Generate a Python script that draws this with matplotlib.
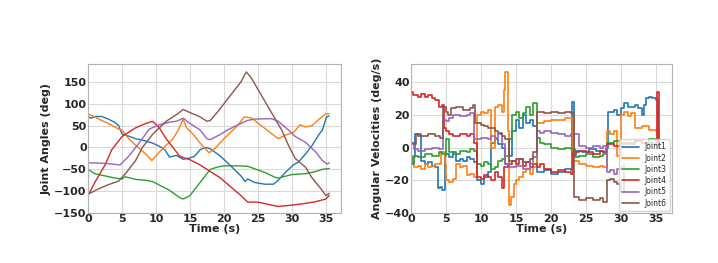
import numpy as np
import matplotlib
matplotlib.use("Agg")
from matplotlib import pyplot as plt

# joint angles (deg): (time s, value) pairs
ang_j1 = [(0, 70), (0.5, 67), (1, 71), (2, 71), (3, 65), (4, 57), (4.5, 50), (5, 31), (6, 26), (7, 20),
          (8, 17), (9.5, 10), (10.5, 3), (11.3, -5), (12, -22), (13, -18), (14, -27), (15, -24),
          (15.7, -20), (16.5, -5), (17.3, 0), (18, -3), (19.5, -20), (21, -42), (22.5, -65),
          (23.1, -78), (23.5, -72), (24.5, -80), (26, -84), (27.3, -84), (28, -75), (29, -58),
          (30.2, -40), (31, -33), (32, -15), (33, 5), (34, 30), (34.5, 40), (35.1, 70), (35.5, 72)]
ang_j2 = [(0, 77), (1, 70), (2, 62), (3, 55), (4.5, 42), (5, 40), (6, 20), (7, 5), (8.5, -15),
          (9.4, -30), (10.5, -10), (11.5, 5), (12.5, 20), (13.3, 40), (14, 65), (14.5, 45), (15.5, 30),
          (16.5, 10), (17.8, -12), (18.5, -5), (20, 20), (22, 50), (23, 70), (24, 68), (25.5, 50),
          (27, 32), (28, 20), (29, 28), (30.3, 35), (31.2, 52), (32, 47), (33, 50), (34, 65),
          (35, 77), (35.5, 77)]
ang_j3 = [(0, -50), (1, -60), (2.5, -65), (4, -70), (5, -72), (5.5, -67), (7, -73), (8.5, -75),
          (9.5, -78), (11, -90), (12, -98), (13.5, -115), (14, -118), (15, -110), (16, -90), (17, -70),
          (18, -50), (19, -45), (20, -42), (22, -42), (23.5, -43), (26, -57), (27.5, -68), (28, -70),
          (30, -62), (32, -60), (33.5, -55), (34.5, -50), (35.5, -48)]
ang_j4 = [(0, -110), (1, -80), (2.5, -40), (3.5, -5), (5, 25), (6, 35), (7, 45), (8.5, 55),
          (9.5, 60), (10.5, 45), (11.5, 20), (12.5, 0), (13.5, -20), (15, -28), (16.5, -40),
          (18, -55), (19.5, -70), (21, -90), (22.5, -110), (23.5, -125), (25, -125), (26.5, -130),
          (28, -135), (30, -132), (32, -128), (33.5, -124), (35, -118), (35.5, -110)]
ang_j5 = [(0, -35), (2, -36), (3.5, -38), (4.7, -40), (6, -20), (7.5, 10), (9, 42), (10.5, 52),
          (12, 58), (13, 60), (14, 67), (15, 55), (16.5, 40), (17.5, 20), (18, 18), (19.5, 30),
          (20.5, 40), (22.5, 55), (23.5, 62), (24.5, 65), (27, 66), (28, 60), (29.5, 40), (30.5, 25),
          (32, 12), (33.5, -10), (34.5, -30), (35.2, -38), (35.5, -35)]
ang_j6 = [(0, -107), (1.5, -95), (3, -85), (4.5, -77), (5.5, -60), (7, -30), (8, 0), (9.5, 30),
          (10.5, 45), (11.5, 60), (13, 75), (14, 87), (15, 80), (16.5, 70), (17.5, 60), (18, 62),
          (19, 80), (20, 100), (21, 120), (22.5, 150), (23.3, 173), (24, 160), (25.5, 120), (27, 80),
          (28.5, 40), (29.5, 5), (30.5, -25), (32, -45), (33, -70), (34.3, -95), (35, -110),
          (35.5, -105)]

# joint angular velocities (deg/s): (time s, value) pairs
vel_j1 = [(0, -10), (0.3, -6), (0.6, 8), (1.0, 7), (1.5, -8), (2.0, -10), (2.5, -9), (3.0, -11),
          (3.5, -12), (3.9, -25), (4.2, -24), (4.5, -26), (4.8, -5), (5.0, -4), (5.5, -6), (6.0, -3),
          (6.5, -8), (7.0, -7), (7.5, -8), (8.0, -6), (8.5, -7), (9.0, -9), (9.5, -20), (10.0, -22),
          (10.5, -18), (11.0, -15), (11.5, 3), (12.0, 5), (12.5, 2), (13.0, 0), (13.5, -10),
          (14.0, -5), (14.5, 10), (15.0, 17), (15.5, 12), (16.0, 20), (16.5, 15), (17.0, 17),
          (17.5, 13), (18.0, -15), (19.0, -14), (20.0, -16), (21.0, -15), (22.0, -13), (22.8, -14),
          (23.0, 28), (23.3, -5), (23.6, -2), (24.5, -3), (25.5, -1), (26.5, -2), (27.5, -3),
          (27.9, 0), (28.2, 22), (29.0, 23), (29.5, 20), (30.0, 24), (30.5, 27), (31.0, 25),
          (31.5, 25), (32.0, 26), (32.5, 24), (33.0, 20), (33.3, 26), (33.6, 30), (34.0, 31),
          (34.5, 30), (35.0, 29), (35.3, 0), (35.5, 0)]
vel_j2 = [(0, -5), (0.5, -12), (1.0, -11), (1.5, -13), (2.0, -10), (2.5, -12), (3.0, -11),
          (3.5, -10), (4.3, -3), (4.8, -10), (5.0, -20), (5.5, -21), (6.0, -19), (6.5, -10),
          (7.0, -12), (7.5, -11), (8.0, -17), (8.5, -16), (9.0, -18), (9.5, 20), (10.0, 22),
          (10.5, 21), (11.0, 23), (11.5, 0), (12.0, 25), (12.5, 26), (13.0, 22), (13.3, 35),
          (13.5, 46), (13.8, 10), (14.0, -35), (14.3, -30), (14.7, -22), (15.0, -20), (15.5, -18),
          (16.0, -15), (16.5, -13), (17.0, -16), (17.5, -12), (18.0, 15), (19.0, 16), (20.0, 17),
          (21.0, 17), (22.0, 18), (22.8, 18), (23.2, -8), (24.0, -10), (25.0, -11), (26.0, -12),
          (27.0, -11), (27.5, -12), (28.0, 10), (28.5, 8), (29.0, 10), (29.5, -5), (30.0, 20),
          (30.5, 22), (31.0, 19), (31.5, 21), (32.0, 12), (33.0, 13), (34.0, 11), (35.0, 10),
          (35.5, 0)]
vel_j3 = [(0, -10), (0.5, -5), (1.0, -6), (2.0, -4), (3.0, -5), (4.0, -3), (4.5, -4), (5.0, 5),
          (5.5, -3), (6.0, -4), (7.0, -2), (8.0, -3), (8.5, -1), (9.0, -2), (9.5, -10), (10.0, -11),
          (10.5, -9), (11.0, -10), (11.5, -13), (12.0, -12), (12.5, -8), (13.0, -7), (13.5, -5),
          (14.0, 5), (14.5, 20), (15.0, 22), (15.5, 18), (16.0, 21), (16.5, 25), (17.0, 20),
          (17.5, 27), (18.0, 6), (18.5, 3), (19.0, 2), (20.0, 0), (21.0, -1), (22.0, 0), (22.8, -1),
          (23.5, -6), (24.0, -5), (25.0, -4), (26.0, -6), (27.0, -5), (27.5, -4), (28.0, 3),
          (29.0, 4), (30.0, 2), (31.0, 3), (32.0, 4), (33.0, 3), (34.0, 5), (35.0, 4), (35.5, 0)]
vel_j4 = [(0, 34), (0.3, 32), (1.0, 31), (1.5, 33), (2.0, 31), (2.5, 32), (3.0, 30), (3.5, 29),
          (4.0, 25), (4.5, 26), (4.7, 12), (5.0, 10), (5.5, 8), (6.0, 7), (7.0, 8), (8.0, 7),
          (8.5, 8), (9.0, 3), (9.5, -18), (10.0, -19), (10.5, -17), (11.0, -18), (11.5, -20),
          (12.0, -15), (12.5, -18), (13.0, -25), (13.3, -12), (13.8, -10), (14.5, -8), (15.0, -10),
          (15.5, -7), (16.0, -11), (16.5, -9), (17.0, -12), (17.5, -10), (18.0, -12), (18.5, -10),
          (19.0, -13), (20.0, -15), (21.0, -14), (22.0, -15), (22.8, -16), (23.2, -3), (24.0, -2),
          (25.0, -3), (26.0, -4), (27.0, -2), (27.5, -3), (28.0, 2), (29.0, 1), (30.0, 3),
          (31.0, 2), (32.0, 4), (33.0, 3), (34.0, 2), (35.0, 3), (35.2, 34), (35.4, 0), (35.5, 0)]
vel_j5 = [(0, 2), (0.5, -1), (1.0, -2), (2.0, -1), (3.0, 0), (4.0, -1), (4.6, 17), (5.0, 16),
          (5.5, 18), (6.0, 20), (7.0, 19), (8.0, 20), (8.5, 21), (9.0, 5), (10.0, 6), (11.0, 5),
          (11.5, 7), (12.0, 6), (12.5, 8), (13.0, 2), (13.5, -10), (14.0, -12), (15.0, -11),
          (16.0, -13), (17.0, -10), (17.5, -6), (18.0, 10), (18.5, 9), (19.0, 10), (20.0, 9),
          (21.0, 8), (22.0, 7), (22.8, 8), (23.5, 8), (24.0, 1), (25.0, 0), (26.0, 1), (27.0, 0),
          (27.5, 1), (28.0, -15), (28.5, -14), (29.0, -16), (29.5, -13), (30.0, -12), (30.5, -10)]
vel_j6 = [(0, 3), (0.5, 2), (0.7, 8), (1.5, 7), (2.5, 8), (3.5, 7), (4.2, 6), (4.6, 25),
          (5.0, 22), (5.3, 20), (5.7, 24), (6.5, 25), (7.5, 23), (8.5, 24), (8.8, 26), (9.2, 15),
          (10.0, 14), (10.5, 13), (11.0, 12), (12.0, 10), (12.5, 9), (13.0, 7), (13.5, 5),
          (14.0, -8), (15.0, -7), (16.0, -9), (17.0, -7), (17.5, -3), (18.0, 22), (19.0, 21),
          (20.0, 22), (21.0, 21), (22.0, 22), (22.8, 21), (23.3, -30), (24.0, -32), (25.0, -31),
          (26.0, -32), (27.0, -31), (27.5, -33), (28.0, -20), (28.5, -19), (29.0, -21),
          (29.5, -22), (30.0, -27), (30.5, -15)]

angles = [ang_j1, ang_j2, ang_j3, ang_j4, ang_j5, ang_j6]
vels = [vel_j1, vel_j2, vel_j3, vel_j4, vel_j5, vel_j6]
names = ["Joint1", "Joint2", "Joint3", "Joint4", "Joint5", "Joint6"]
colors = ["#1f77b4", "#ff7f0e", "#2ca02c", "#d62728", "#9467bd", "#8c564b"]

plt.style.use("seaborn-v0_8-whitegrid")
plt.rcParams["font.family"] = ["DejaVu Sans"]

fig = plt.figure(figsize=(7.18, 2.63), dpi=100)
ax1 = fig.add_axes([0.1226, 0.190, 0.352, 0.5665])
ax2 = fig.add_axes([0.5724, 0.190, 0.3635, 0.5665])

for data, c in zip(angles, colors):
    t, v = zip(*data)
    ax1.plot(t, v, color=c, lw=1.0)

for data, c, n in zip(vels, colors, names):
    t, v = zip(*data)
    ax2.plot(t, v, color=c, lw=1.2, drawstyle="steps-post", label=n)

ax1.set_xlim(0, 37.2)
ax1.set_ylim(-150, 191)
ax1.set_yticks([-150, -100, -50, 0, 50, 100, 150])
ax2.set_xlim(0, 37.3)
ax2.set_ylim(-40, 51)
ax2.set_yticks([-40, -20, 0, 20, 40])

ax1.set_xlabel("Time (s)", fontsize=8, fontweight="bold", labelpad=0)
ax1.set_ylabel("Joint Angles (deg)", fontsize=8, fontweight="bold", labelpad=2)
ax2.set_xlabel("Time (s)", fontsize=8, fontweight="bold", labelpad=0)
ax2.set_ylabel("Angular Velocities (deg/s)", fontsize=8, fontweight="bold", labelpad=2)

for ax in (ax1, ax2):
    ax.set_xticks([0, 5, 10, 15, 20, 25, 30, 35])
    ax.tick_params(labelsize=8, pad=1)
    for lab in ax.get_xticklabels() + ax.get_yticklabels():
        lab.set_fontweight("bold")
    for s in ax.spines.values():
        s.set_visible(True)
        s.set_color("0.7")
        s.set_linewidth(0.8)
    ax.grid(True, color="0.85", lw=0.8)

leg = ax2.legend(loc="lower right", fontsize=5.5, frameon=True, handlelength=2.2,
                 borderpad=0.4, labelspacing=0.3, borderaxespad=0.3)
leg.get_frame().set_edgecolor("0.8")

fig.savefig("out.png", dpi=100)
